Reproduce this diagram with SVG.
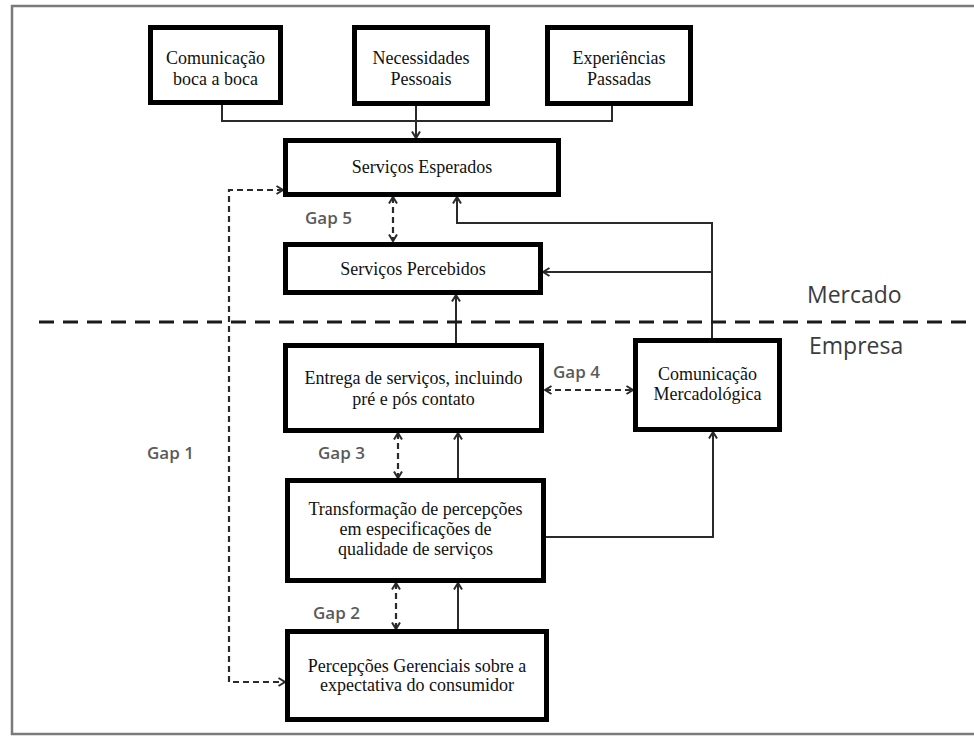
<svg xmlns="http://www.w3.org/2000/svg" width="974" height="736" viewBox="0 0 974 736">
<defs>
<style>
.box{fill:#fff;stroke:#000;stroke-width:5}
.t{font-family:"Liberation Serif","Times New Roman",serif;font-size:18px;fill:#111;text-anchor:middle}
.gap{font-family:"Open Sans","Liberation Sans",sans-serif;font-size:17px;fill:#5a5a5a;font-weight:600}
.zone{font-family:"Open Sans","Liberation Sans",sans-serif;font-size:23px;fill:#3c3c3c}
.ln{fill:none;stroke:#2a2a2a;stroke-width:2}
.dash{fill:none;stroke:#2a2a2a;stroke-width:2.2;stroke-dasharray:6 4}
.div{fill:none;stroke:#1a1a1a;stroke-width:3.2;stroke-dasharray:15 9}
</style>
<marker id="ah" viewBox="0 0 10 10" refX="8.5" refY="5" markerWidth="10" markerHeight="10" markerUnits="userSpaceOnUse" orient="auto-start-reverse">
<path d="M2,1 L8.5,5 L2,9" fill="none" stroke="#2a2a2a" stroke-width="2"/>
</marker>
</defs>
<rect width="974" height="736" fill="#fff"/>
<rect x="12" y="6" width="980" height="728" fill="none" stroke="#7a7a7a" stroke-width="2.5"/>

<g id="connectors">
<path class="ln" d="M222,105 V121 H612 V106"/>
<path class="ln" d="M416,106 V138" marker-end="url(#ah)"/>
<path class="dash" d="M393,197 V241" marker-start="url(#ah)" marker-end="url(#ah)"/>
<path class="ln" d="M712,338 V223 H457 V197" marker-end="url(#ah)"/>
<path class="ln" d="M712,272 H543" marker-end="url(#ah)"/>
<path class="ln" d="M456,343 V295" marker-end="url(#ah)"/>
<path class="dash" d="M283,190 H229 V682 H285" marker-start="url(#ah)" marker-end="url(#ah)"/>
<path class="dash" d="M545,390 H633" marker-start="url(#ah)" marker-end="url(#ah)"/>
<path class="dash" d="M398,433 V478" marker-start="url(#ah)" marker-end="url(#ah)"/>
<path class="ln" d="M458,478 V433" marker-end="url(#ah)"/>
<path class="ln" d="M546,537 H713 V432" marker-end="url(#ah)"/>
<path class="dash" d="M396,583 V629" marker-start="url(#ah)" marker-end="url(#ah)"/>
<path class="ln" d="M458,629 V583" marker-end="url(#ah)"/>
<path class="div" d="M39,322 H974"/>
</g>

<g id="labels">
<text class="gap" x="305" y="224">Gap 5</text>
<text class="gap" x="553" y="378">Gap 4</text>
<text class="gap" x="147" y="459">Gap 1</text>
<text class="gap" x="318" y="459">Gap 3</text>
<text class="gap" x="313" y="619">Gap 2</text>
<text class="zone" x="807" y="303">Mercado</text>
<text class="zone" x="809" y="354">Empresa</text>
</g>

<g id="boca-a-boca">
<rect class="box" x="150.5" y="27.5" width="130" height="75"/>
<text class="t" x="215.5" y="64">Comunicação</text>
<text class="t" x="215.5" y="85">boca a boca</text>
</g>
<g id="necessidades">
<rect class="box" x="354.5" y="27.5" width="133" height="76"/>
<text class="t" x="421" y="64">Necessidades</text>
<text class="t" x="421" y="85">Pessoais</text>
</g>
<g id="experiencias">
<rect class="box" x="547.5" y="27.5" width="143" height="76"/>
<text class="t" x="619" y="64">Experiências</text>
<text class="t" x="619" y="85">Passadas</text>
</g>
<g id="esperados">
<rect class="box" x="285.5" y="140.5" width="273" height="54"/>
<text class="t" x="422" y="173">Serviços Esperados</text>
</g>
<g id="percebidos">
<rect class="box" x="285.5" y="244.5" width="255" height="48"/>
<text class="t" x="413" y="275">Serviços Percebidos</text>
</g>
<g id="entrega">
<rect class="box" x="285.5" y="345.5" width="256" height="85"/>
<text class="t" x="413.5" y="384">Entrega de serviços, incluindo</text>
<text class="t" x="413.5" y="405">pré e pós contato</text>
</g>
<g id="comunicacao-mercadologica">
<rect class="box" x="635.5" y="340.5" width="144" height="89"/>
<text class="t" x="707.5" y="380">Comunicação</text>
<text class="t" x="707.5" y="400">Mercadológica</text>
</g>
<g id="transformacao">
<rect class="box" x="287.5" y="480.5" width="256" height="100"/>
<text class="t" x="415.5" y="515">Transformação de percepções</text>
<text class="t" x="415.5" y="535">em especificações de</text>
<text class="t" x="415.5" y="555">qualidade de serviços</text>
</g>
<g id="percepcoes">
<rect class="box" x="287.5" y="631.5" width="259" height="88"/>
<text class="t" x="417" y="672">Percepções Gerenciais sobre a</text>
<text class="t" x="417" y="691">expectativa do consumidor</text>
</g>
</svg>
